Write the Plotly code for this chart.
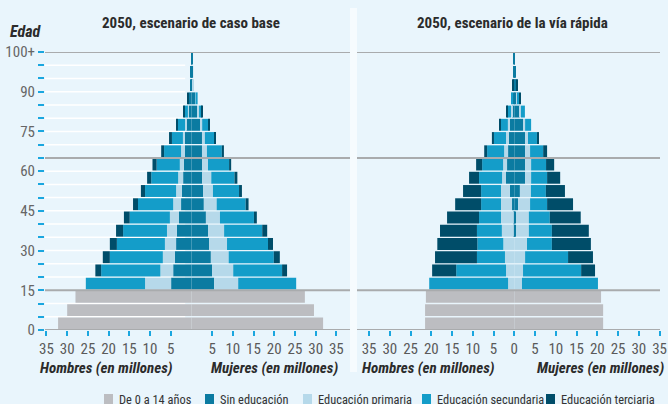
import plotly.graph_objects as go

# Age groups (bottom to top)
age_groups = ["0-4", "5-9", "10-14", "15-19", "20-24", "25-29", "30-34", "35-39",
              "40-44", "45-49", "50-54", "55-59", "60-64", "65-69", "70-74",
              "75-79", "80-84", "85-89", "90-94", "95-99", "100+"]
child_groups = age_groups[:3]
adult_groups = age_groups[3:]

# Boundary tick labels on the age axis
age_tick_labels = {0: "0", 3: "15", 6: "30", 9: "45", 12: "60", 15: "75", 18: "90", 21: "100+"}

# ---- 2050, base case scenario (millions) ----
base_child_men = [32.2, 30.0, 28.0]
base_child_women = [31.8, 29.6, 27.4]
base_men_none = [4.9, 4.4, 4.0, 3.7, 3.5, 3.0, 2.5, 2.3, 2.0, 1.8, 1.55, 1.55, 1.3, 0.6, 0.6, 0.15, 0.15, 0.1]
base_men_primary = [6.3, 3.1, 2.9, 2.7, 2.4, 2.2, 1.9, 1.4, 1.2, 1.0, 0.95, 0.5, 0.25, 0.25, 0.05, 0, 0, 0]
base_men_secondary = [14.3, 14.3, 12.8, 11.6, 10.6, 9.7, 8.5, 7.5, 6.5, 5.6, 4.1, 2.65, 1.7, 0.8, 0, 0, 0, 0]
base_men_tertiary = [0, 1.4, 1.7, 1.7, 1.7, 1.4, 1.2, 1.0, 1.0, 1.0, 0.7, 0.7, 0.25, 0.2, 0.25, 0, 0, 0]
base_women_none = [5.5, 5.0, 4.7, 4.3, 4.0, 3.5, 3.0, 2.8, 2.6, 2.6, 2.55, 2.55, 2.1, 1.35, 0.9, 0.35, 0.4, 0.35]
base_women_primary = [5.8, 5.1, 4.3, 4.3, 3.9, 3.4, 3.1, 2.4, 2.2, 1.4, 1.2, 0.7, 0.5, 0.5, 0.1, 0.2, 0, 0]
base_women_secondary = [14.0, 11.8, 10.9, 9.9, 9.2, 8.2, 7.0, 6.3, 5.6, 5.1, 3.6, 2.4, 1.45, 0.7, 0.5, 0, 0, 0]
base_women_tertiary = [0, 1.2, 1.45, 1.2, 1.2, 0.7, 0.7, 0.7, 0.7, 0.5, 0.5, 0.25, 0.25, 0.05, 0, 0, 0, 0]

# ---- 2050, fast-track scenario (millions) ----
fast_child_men = [21.5, 21.5, 21.3]
fast_child_women = [21.4, 21.4, 20.9]
fast_men_none = [0, 0, 0, 0, 0.1, 0.1, 0.55, 1.05, 2.0, 1.75, 1.5, 1.3, 1.05, 0.55, 0.3, 0.3, 0.15, 0.1]
fast_men_primary = [1.5, 2.0, 2.25, 2.65, 2.9, 3.1, 2.65, 2.15, 0.95, 0.95, 0.95, 0.7, 0.5, 0.25, 0, 0, 0, 0]
fast_men_secondary = [19.0, 12.0, 6.75, 6.25, 6.0, 5.3, 4.8, 4.8, 5.55, 5.05, 4.1, 2.9, 1.7, 0.95, 0.5, 0, 0, 0]
fast_men_tertiary = [0, 5.8, 10.1, 9.65, 8.9, 7.7, 6.25, 4.35, 2.4, 1.45, 0.7, 0.5, 0.25, 0.25, 0, 0.1, 0, 0]
fast_women_none = [0, 0, 0, 0, 0.4, 0.4, 0.9, 1.35, 2.6, 2.6, 2.6, 2.6, 2.1, 1.35, 0.6, 0.5, 0.4, 0.15]
fast_women_primary = [1.85, 2.1, 2.6, 3.05, 3.1, 3.1, 2.9, 2.65, 1.45, 1.45, 1.2, 0.7, 0.5, 0.25, 0.25, 0, 0, 0]
fast_women_secondary = [18.3, 14.0, 10.35, 6.0, 5.55, 5.05, 4.1, 3.6, 3.85, 3.6, 3.15, 2.15, 1.45, 0.95, 0.35, 0, 0, 0]
fast_women_tertiary = [0, 3.35, 6.0, 9.4, 8.9, 7.45, 6.25, 4.6, 3.15, 1.95, 0.95, 0.5, 0, 0, 0.2, 0.2, 0, 0]

panel_titles = ["2050, escenario de caso base", "2050, escenario de la vía rápida"]
legend_labels = ["De 0 a 14 años", "Sin educación", "Educación primaria",
                 "Educación secundaria", "Educación terciaria"]
x_tick_values = [-35, -30, -25, -20, -15, -10, -5, 0, 5, 10, 15, 20, 25, 30, 35]

# ---- styling ----
W, H = 668, 404
BG = "#e9f5fc"
COLORS = ["#bcbdc1", "#0b7ba1", "#b6d9ea", "#149dc9", "#004d69"]
GRAY_LINE = "#a9abad"
TICK_BLUE = "#1aa6df"
FONT = "Roboto Condensed, Lato, sans-serif"

PLOT_TOP, PLOT_BOTTOM = 52, 330


def py(px):
    """Convert a pixel row to paper y."""
    return (PLOT_BOTTOM - px) / (PLOT_BOTTOM - PLOT_TOP)


def pxx(px):
    return px / W


child_pos = [age_groups.index(g) for g in child_groups]
adult_pos = [age_groups.index(g) for g in adult_groups]

fig = go.Figure()


def add_panel(xa, ya, child_m, child_f, men, women):
    fig.add_trace(go.Bar(x=[-v for v in child_m], y=child_pos, orientation="h",
                         marker=dict(color=COLORS[0], line=dict(width=0)),
                         name=legend_labels[0], xaxis=xa, yaxis=ya, showlegend=False))
    fig.add_trace(go.Bar(x=child_f, y=child_pos, orientation="h",
                         marker=dict(color=COLORS[0], line=dict(width=0)),
                         name=legend_labels[0], xaxis=xa, yaxis=ya, showlegend=False))
    for i, (m, w) in enumerate(zip(men, women)):
        fig.add_trace(go.Bar(x=[-v for v in m], y=adult_pos, orientation="h",
                             marker=dict(color=COLORS[i + 1], line=dict(width=0)),
                             name=legend_labels[i + 1], xaxis=xa, yaxis=ya, showlegend=False))
        fig.add_trace(go.Bar(x=w, y=adult_pos, orientation="h",
                             marker=dict(color=COLORS[i + 1], line=dict(width=0)),
                             name=legend_labels[i + 1], xaxis=xa, yaxis=ya, showlegend=False))


add_panel("x", "y", base_child_men, base_child_women,
          [base_men_none, base_men_primary, base_men_secondary, base_men_tertiary],
          [base_women_none, base_women_primary, base_women_secondary, base_women_tertiary])
add_panel("x2", "y2", fast_child_men, fast_child_women,
          [fast_men_none, fast_men_primary, fast_men_secondary, fast_men_tertiary],
          [fast_women_none, fast_women_primary, fast_women_secondary, fast_women_tertiary])

boundaries = [k - 0.5 for k in range(len(age_groups) + 1)]
y_ticktext = [age_tick_labels.get(k, "") for k in range(len(age_groups) + 1)]

left_range = [-35.36, 38.3]
right_range = [-37.9, 35.1]

xaxis_common = dict(
    showgrid=False, zeroline=False, showline=False, automargin=False,
    ticks="outside", ticklen=5, tickwidth=1.5, tickcolor=TICK_BLUE,
    tickfont=dict(family=FONT, size=15, color="#5a5a5a"),
    ticklabeloverflow="allow",
    fixedrange=True,
)

left_ticks = [v for v in x_tick_values if v != 0]
fig.update_layout(
    width=W, height=H,
    margin=dict(l=0, r=0, t=PLOT_TOP, b=H - PLOT_BOTTOM, pad=0),
    paper_bgcolor=BG, plot_bgcolor=BG,
    barmode="relative", bargap=0.1,
    showlegend=False,
    font=dict(family=FONT, color="#333333"),
    xaxis=dict(domain=[pxx(45), pxx(350)], range=left_range,
               tickvals=left_ticks, ticktext=[str(abs(v)) for v in left_ticks],
               anchor="y", **xaxis_common),
    xaxis2=dict(domain=[pxx(357), pxx(660)], range=right_range,
                tickvals=x_tick_values, ticktext=[str(abs(v)) for v in x_tick_values],
                anchor="y2", **xaxis_common),
    yaxis=dict(range=[-0.5, 20.5], tickvals=boundaries, ticktext=y_ticktext,
               showgrid=False, zeroline=False, showline=False, automargin=False,
               ticks="outside", ticklen=6, tickwidth=1.5, tickcolor=TICK_BLUE,
               tickfont=dict(family=FONT, size=15, color="#666666"),
               anchor="x", fixedrange=True),
    yaxis2=dict(range=[-0.5, 20.5], showticklabels=False, showgrid=False,
                zeroline=False, showline=False, automargin=False,
                anchor="x2", matches="y", fixedrange=True),
)

shapes = []
# white guide lines on the left half of the first panel
for b in boundaries[1:-1]:
    if b in (2.5, 12.5):
        continue
    shapes.append(dict(type="line", xref="x", yref="y", x0=left_range[0], x1=-1.5,
                       y0=b, y1=b, line=dict(color="white", width=1.5), layer="below"))
# gray reference lines (15, 65, top) and bottom axis line for both panels
for xr in ("x", "x2"):
    yr = "y" if xr == "x" else "y2"
    for b in (2.5, 12.5, 20.5):
        shapes.append(dict(type="line", xref=f"{xr} domain", yref=yr, x0=0, x1=1,
                           y0=b, y1=b, line=dict(color=GRAY_LINE, width=2), layer="above"))
    shapes.append(dict(type="line", xref=f"{xr} domain", yref=yr, x0=0, x1=1,
                       y0=-0.5, y1=-0.5, line=dict(color=GRAY_LINE, width=2), layer="above"))
# pale divider between panels
shapes.append(dict(type="rect", xref="paper", yref="paper", x0=pxx(350), x1=pxx(357),
                   y0=py(372), y1=py(8), fillcolor="#f6fbfe", line=dict(width=0), layer="below"))

# legend swatches and labels
legend_text_x = [120, 221, 319, 438, 562]
for color, tx in zip(COLORS, legend_text_x):
    shapes.append(dict(type="rect", xref="paper", yref="paper",
                       x0=pxx(tx - 16), x1=pxx(tx - 7), y0=py(405), y1=py(394),
                       fillcolor=color, line=dict(width=0)))
fig.update_layout(shapes=shapes)

annotations = [
    dict(text="<b>" + panel_titles[0] + "</b>", x=pxx(191), y=py(23), xref="paper", yref="paper",
         showarrow=False, xanchor="center", yanchor="middle",
         font=dict(family=FONT, size=15, color="#2b2b2b")),
    dict(text="<b>" + panel_titles[1] + "</b>", x=pxx(512), y=py(23), xref="paper", yref="paper",
         showarrow=False, xanchor="center", yanchor="middle",
         font=dict(family=FONT, size=15, color="#2b2b2b")),
    dict(text="<b><i>Edad</i></b>", x=pxx(8), y=py(31), xref="paper", yref="paper",
         showarrow=False, xanchor="left", yanchor="middle",
         font=dict(family=FONT, size=16, color="#2b2b2b")),
]
for x_px, anchor, label in [(38, "left", "Hombres (en millones)"),
                            (340, "right", "Mujeres (en millones)"),
                            (360, "left", "Hombres (en millones)"),
                            (666, "right", "Mujeres (en millones)")]:
    annotations.append(dict(text="<b><i>" + label + "</i></b>", x=pxx(x_px), y=py(368),
                            xref="paper", yref="paper", showarrow=False,
                            xanchor=anchor, yanchor="middle",
                            font=dict(family=FONT, size=15, color="#2b2b2b")))
for label, tx in zip(legend_labels, legend_text_x):
    annotations.append(dict(text=label, x=pxx(tx - 3), y=py(399), xref="paper", yref="paper",
                            showarrow=False, xanchor="left", yanchor="middle",
                            font=dict(family=FONT, size=12.4, color="#333333")))
fig.update_layout(annotations=annotations)

fig.write_html("out.html")
